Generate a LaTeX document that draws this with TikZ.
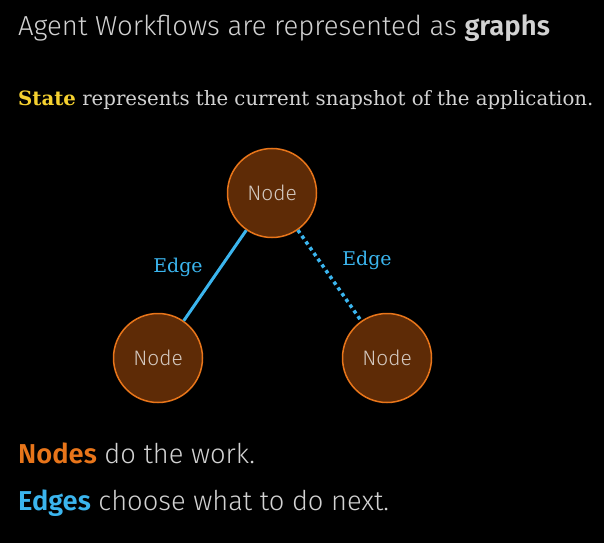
\documentclass[tikz,border=0pt]{standalone}
\usepackage{fontspec}
\setmainfont{Fira Sans Light}
\newfontfamily\semibold{Fira Sans SemiBold}
\newfontfamily\slab{DejaVu Serif}
\usepackage{tikz}
\definecolor{nodefill}{HTML}{5E2B06}
\definecolor{nodeline}{HTML}{E8751A}
\definecolor{edgeblue}{HTML}{3BB5EE}
\definecolor{stateyellow}{HTML}{F5D130}
\definecolor{textgray}{HTML}{D2D2D2}
\tikzstyle{gnode}=[circle, draw=nodeline, fill=nodefill, line width=1.5bp, minimum size=89bp, inner sep=0pt, text=textgray!90!nodeline, font=\fontsize{21}{24}\selectfont]
\tikzstyle{edgelabel}=[text=edgeblue, font=\slab\fontsize{19}{22}\selectfont]
\tikzstyle{edge}=[draw=edgeblue, line width=3bp]
\tikzstyle{line}=[anchor=base west, inner sep=0pt, text=textgray]

\begin{document}
\begin{tikzpicture}[x=1bp,y=-1bp]
\fill[black] (0,0) rectangle (604,543);
\node[line, font=\fontsize{27.6}{32}\selectfont] (title) at ( 18 , 36 ){Agent Workflows are represented as {\semibold graphs}};
\node[line, font=\slab\fontsize{19.8}{23}\selectfont] (state) at ( 18 , 106 ){{\bfseries\color{stateyellow}State} represents the current snapshot of the application.};
\node[gnode] (top) at ( 272 , 193 ){Node};
\node[gnode] (left) at ( 158 , 358 ){Node};
\node[gnode] (right) at ( 387 , 358 ){Node};
\draw[edge] (top) -- (left);
\draw[edge, line width=3.5bp, dash pattern=on 3.5bp off 3.5bp] (top) -- (right);
\node[edgelabel] (lbl1) at ( 178 , 267 ){Edge};
\node[edgelabel] (lbl2) at ( 367 , 260 ){Edge};
\node[line, font=\fontsize{27.4}{32}\selectfont] (nodes) at ( 18 , 463 ){{\semibold\color{nodeline}Nodes} do the work.};
\node[line, font=\fontsize{27.4}{32}\selectfont] (edges) at ( 18 , 510 ){{\semibold\color{edgeblue}Edges} choose what to do next.};
\end{tikzpicture}
\end{document}
